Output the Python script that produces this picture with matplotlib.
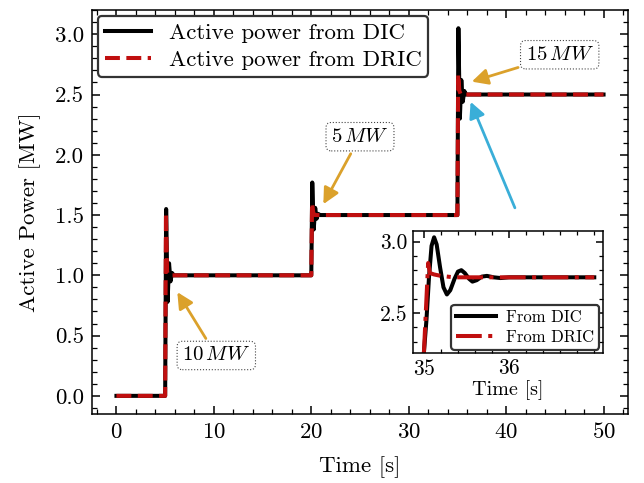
#!/usr/bin/env python3
"""
Potencia activa DIC vs DRIC con inset del escalon en t=35 s
"""

import matplotlib
matplotlib.use('Agg')
import matplotlib.pyplot as plt
from matplotlib.ticker import AutoMinorLocator

plt.rcParams['font.family'] = ['cmr10', 'DejaVu Serif']
plt.rcParams['mathtext.fontset'] = 'cm'
plt.rcParams['axes.formatter.use_mathtext'] = True
plt.rcParams['axes.unicode_minus'] = False

# Datos (curva principal)
t_dic = [0, 5.0, 5.1, 5.25, 5.4, 5.55, 5.7, 5.9,
         20.0, 20.1, 20.25, 20.4, 20.55, 20.7, 20.9,
         35.0, 35.1, 35.25, 35.4, 35.55, 35.7, 35.9, 50]
p_dic = [0, 0, 1.55, 0.78, 1.10, 0.95, 1.02, 1.0,
         1.0, 1.77, 1.38, 1.56, 1.47, 1.51, 1.5,
         1.5, 3.05, 2.30, 2.62, 2.44, 2.53, 2.5, 2.5]

t_dric = [0, 5.0, 5.08, 5.2, 5.35, 20.0, 20.08, 20.2, 20.35,
          35.0, 35.08, 35.2, 35.35, 50]
p_dric = [0, 0, 1.52, 1.03, 1.0, 1.0, 1.60, 1.52, 1.5,
          1.5, 2.67, 2.53, 2.5, 2.5]

# Datos del inset (zoom en t = 35 s)
t_in_dic = [35.0, 35.03, 35.06, 35.09, 35.12, 35.15, 35.19, 35.23, 35.27,
            35.31, 35.36, 35.40, 35.44, 35.48, 35.53, 35.57, 35.62,
            35.68, 35.74, 35.82, 35.9, 36.0, 37.0]
p_in_dic = [2.22, 2.45, 2.75, 2.97, 3.03, 2.98, 2.82, 2.68, 2.63,
            2.66, 2.74, 2.79, 2.80, 2.78, 2.74, 2.72, 2.73,
            2.755, 2.76, 2.75, 2.745, 2.75, 2.75]
t_in_dric = [35.0, 35.03, 35.05, 35.07, 35.12, 35.2, 35.35, 37.0]
p_in_dric = [2.22, 2.60, 2.85, 2.78, 2.77, 2.76, 2.75, 2.75]

ROJO = '#C00F0F'
NARANJA = '#DBA12B'
AZUL = '#3AAED8'


def estilo(ax, size, major=6, minor=3.5):
    ax.tick_params(which='both', direction='in', top=True, right=True,
                   labelsize=size)
    ax.tick_params(which='major', length=major, width=1.1)
    ax.tick_params(which='minor', length=minor, width=0.9)
    ax.xaxis.set_minor_locator(AutoMinorLocator())
    ax.yaxis.set_minor_locator(AutoMinorLocator())
    for s in ax.spines.values():
        s.set_linewidth(1.1)


fig = plt.figure(figsize=(6.44, 4.83), dpi=100)
ax = fig.add_axes([0.143, 0.143, 0.832, 0.836])

ax.plot(t_dic, p_dic, color='black', lw=2.9, label='Active power from DIC')
ax.plot(t_dric, p_dric, color=ROJO, lw=2.9, ls='--',
        label='Active power from DRIC')

ax.set_xlim(-2.5, 52.5)
ax.set_ylim(-0.15, 3.2)
ax.set_xticks([0, 10, 20, 30, 40, 50])
ax.set_yticks([0.0, 0.5, 1.0, 1.5, 2.0, 2.5, 3.0])
ax.set_yticklabels(['0.0', '0.5', '1.0', '1.5', '2.0', '2.5', '3.0'])
ax.set_xlabel('Time [s]', fontsize=16.5, labelpad=10)
ax.set_ylabel('Active Power [MW]', fontsize=16.5, labelpad=10)
estilo(ax, 16.5)
ax.tick_params(axis='both', which='major', pad=6)

leg = ax.legend(loc='upper left', fontsize=16.5, fancybox=True, framealpha=1,
                borderaxespad=0.25, handlelength=2.0, borderpad=0.3,
                labelspacing=0.3, handletextpad=0.8)
leg.get_frame().set_edgecolor('#333333')
leg.get_frame().set_linewidth(1.6)

caja = dict(boxstyle='round,pad=0.25', fc='white', ec='#444444', ls=':', lw=0.8)
flecha = dict(arrowstyle='-|>', color=NARANJA, lw=2.0, mutation_scale=24,
              shrinkA=2, shrinkB=2)

ax.annotate(r'$10\,MW$', xy=(6.1, 0.88), xytext=(10.25, 0.335),
            fontsize=15, ha='center', va='center', bbox=caja,
            arrowprops=flecha)
ax.annotate(r'$5\,MW$', xy=(21.1, 1.57), xytext=(25.0, 2.15),
            fontsize=15, ha='center', va='center', bbox=caja,
            arrowprops=flecha)
ax.annotate(r'$15\,MW$', xy=(36.2, 2.6), xytext=(45.5, 2.83),
            fontsize=15, ha='center', va='center', bbox=caja,
            arrowprops=flecha)
ax.annotate('', xy=(36.3, 2.45), xytext=(40.9, 1.56),
            arrowprops=dict(arrowstyle='-|>', color=AZUL, lw=2.0,
                            mutation_scale=24, shrinkA=0, shrinkB=1))

# Inset
axi = fig.add_axes([0.641, 0.269, 0.295, 0.253])
axi.plot(t_in_dic, p_in_dic, color='black', lw=2.9, label='From DIC')
axi.plot(t_in_dric, p_in_dric, color=ROJO, lw=2.9, ls='-.', label='From DRIC')
axi.set_xlim(34.87, 37.1)
axi.set_ylim(2.22, 3.075)
axi.set_xticks([35, 36])
axi.set_yticks([2.5, 3.0])
axi.set_yticklabels(['2.5', '3.0'])
axi.set_xlabel('Time [s]', fontsize=14.5, labelpad=1)
estilo(axi, 15.5, major=5, minor=3)
axi.tick_params(axis='both', which='major', pad=4)

legi = axi.legend(loc='lower right', fontsize=12, fancybox=True, framealpha=1,
                  borderaxespad=0.2, handlelength=2.4, borderpad=0.3,
                  labelspacing=0.25, handletextpad=0.6)
legi.get_frame().set_edgecolor('#333333')
legi.get_frame().set_linewidth(1.6)

plt.savefig('out.png', dpi=100)
plt.close()
